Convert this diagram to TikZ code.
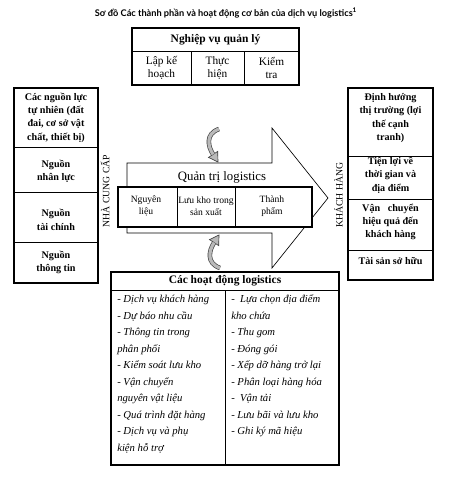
\documentclass[tikz,border=0pt]{standalone}
\usepackage{fontspec}
\setmainfont{Liberation Serif}
\newfontfamily\titlefont{Lato}
\newcommand\grayturn{%
  \draw[black!75, line width=3.4pt] (7,-16) .. controls (-7,-11) and (-4,1.5) .. (1.1,9.4);
  \filldraw[fill=gray!55, draw=black!75, line width=0.5pt] (5.7,6.4) -- (6,17) -- (-3.5,12.4) -- cycle;
  \draw[gray!55, line width=2.4pt] (7,-16) .. controls (-7,-11) and (-4,1.5) .. (1.1,9.4);
}
\begin{document}
\begin{tikzpicture}[x=0.75pt,y=-0.75pt,
  outerln/.style={line width=1.1pt},
  innerln/.style={line width=0.5pt},
  sidebold/.style={align=center, inner sep=0pt, font=\bfseries\fontsize{7.6}{10}\selectfont},
  topcell/.style={align=center, inner sep=0pt, font=\fontsize{8.5}{9.8}\selectfont},
  midcell/.style={align=center, inner sep=0pt, font=\fontsize{7.2}{9}\selectfont},
  vlabel/.style={rotate=90, inner sep=0pt, font=\fontsize{7.3}{9}\selectfont},
  item/.style={anchor=west, inner sep=0pt, text height=1.6ex, text depth=0.45ex, font=\itshape\fontsize{8}{10}\selectfont},
  head/.style={inner sep=0pt, font=\bfseries\fontsize{8.6}{10}\selectfont}]
\fill[white] (0,0) rectangle (452,479);
\useasboundingbox (0,0) rectangle (452,479);

% title
\node[inner sep=0pt, font=\titlefont\bfseries\fontsize{6.9}{8}\selectfont] (title) at (226,13)
  {Sơ đồ Các thành phần và hoạt động cơ bản của dịch vụ logistics\textsuperscript{1}};

% top box
\draw[innerln] (132,51) -- (299,51);
\draw[innerln] (191,51) -- (191,85) (244,51) -- (244,85);
\draw[outerln] (132,28) rectangle (299,85);
\node[head] (t0) at (215.5,40) {Nghiệp vụ quản lý};
\node[topcell] (t1) at (161.5,68) {Lập kế\\hoạch};
\node[topcell] (t2) at (217.5,68) {Thực\\hiện};
\node[topcell] (t3) at (271.5,68) {Kiểm\\tra};

% left column
\draw[innerln] (14,147) -- (98,147) (14,192) -- (98,192) (14,242) -- (98,242);
\draw[outerln] (14,88) rectangle (98,283);
\node[sidebold] (l1) at (56,117.5) {Các nguồn lực\\tự nhiên (đất\\đai, cơ sở vật\\chất, thiết bị)};
\node[sidebold] (l2) at (56,171) {Nguồn\\nhân lực};
\node[sidebold] (l3) at (56,220) {Nguồn\\tài chính};
\node[sidebold] (l4) at (56,262.5) {Nguồn\\thông tin};

% right column
\draw[innerln] (348,156) -- (433,156) (348,199) -- (433,199) (348,250) -- (433,250);
\draw[outerln] (348,88) rectangle (433,280);
\node[sidebold] (r1) at (390.5,118) {Định hướng\\thị trường (lợi\\thế cạnh\\tranh)};
\node[sidebold] (r2) at (390.5,175) {Tiện lợi về\\thời gian và\\địa điểm};
\node[sidebold] (r3) at (390.5,222) {Vận\ \ \ chuyển\\hiệu quả đến\\khách hàng};
\node[sidebold] (r4) at (390.5,261) {Tài sản sở hữu};

% vertical labels
\node[vlabel] (v1) at (105,191) {NHÀ CUNG CẤP};
\node[vlabel] (v2) at (338.5,195) {KHÁCH HÀNG};

% big arrow
\draw[innerln] (127,163) -- (272,163) -- (272,128) -- (328,198) -- (272,268) -- (272,233) -- (127,233) -- cycle;
\node[inner sep=0pt, font=\fontsize{9.6}{11}\selectfont] (qt) at (222,177) {Quản trị logistics};
\draw[line width=1.5pt, fill=white] (118,187) rectangle (312,227);
\draw[innerln] (177,187) -- (177,227) (235,187) -- (235,227);
\node[midcell] (m1) at (146,206) {Nguyên\\liệu};
\node[midcell] (m2) at (206,206) {Lưu kho trong\\sản xuất};
\node[midcell] (m3) at (272,206) {Thành\\phẩm};

% curved arrows
\begin{scope}[shift={(212,145)}] \grayturn \end{scope}
\begin{scope}[shift={(213,252)}, yscale=-1] \grayturn \end{scope}

% bottom box
\draw[innerln] (111,290) -- (339,290) (225,290) -- (225,465);
\draw[outerln, fill=none] (111,272) rectangle (339,465);
\node[head] (b0) at (225,281) {Các hoạt động logistics};
\foreach \t [count=\i] in {- Dịch vụ khách hàng, - Dự báo nhu cầu, - Thông tin trong, phân phối, - Kiểm soát lưu kho, - Vận chuyển, nguyên vật liệu, - Quá trình đặt hàng, - Dịch vụ và phụ, kiện hỗ trợ}
  \node[item] (L\i) at (117,{299+(\i-1)*16.55}) {\t};
\foreach \t [count=\i] in {-\ \ Lựa chọn địa điểm, kho chứa, - Thu gom, - Đóng gói, - Xếp dỡ hàng trở lại, - Phân loại hàng hóa, -\ \ Vận tải, - Lưu bãi và lưu kho, - Ghi ký mã hiệu}
  \node[item] (R\i) at (231,{299+(\i-1)*16.55}) {\t};
\end{tikzpicture}
\end{document}
